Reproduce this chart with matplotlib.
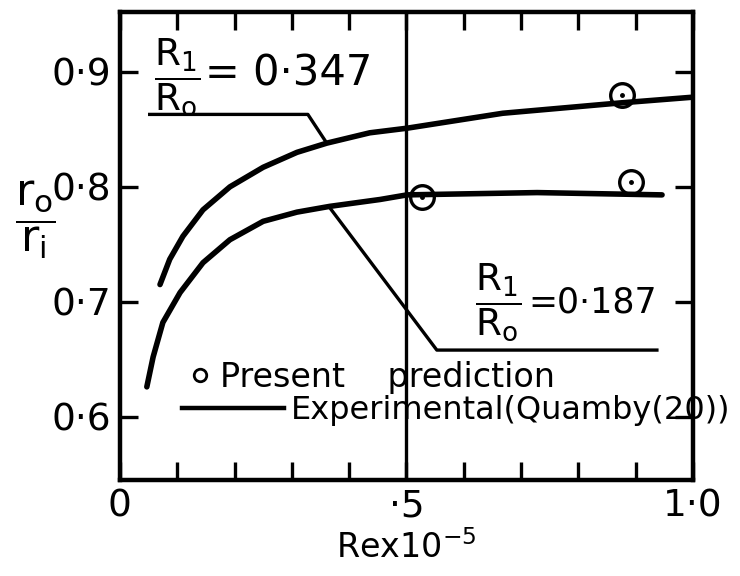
import numpy as np
import matplotlib
matplotlib.use('Agg')

import matplotlib.pyplot as plt
from matplotlib.lines import Line2D

plt.rcParams['font.family'] = ['DejaVu Sans']
plt.rcParams['mathtext.fontset'] = 'dejavusans'
plt.rcParams['mathtext.default'] = 'regular'

# experimental curve, R1/R0 = 0.347
re_a = [0.070, 0.087, 0.110, 0.145, 0.192, 0.250, 0.309, 0.361, 0.436, 0.501, 0.668, 0.873, 1.0]
ratio_a = [0.715, 0.737, 0.757, 0.780, 0.800, 0.817, 0.830, 0.838, 0.847, 0.851, 0.864, 0.873, 0.878]

# experimental curve, R1/R0 = 0.187
re_b = [0.047, 0.058, 0.075, 0.105, 0.145, 0.192, 0.250, 0.309, 0.366, 0.454, 0.501, 0.728, 0.946]
ratio_b = [0.626, 0.652, 0.682, 0.708, 0.734, 0.754, 0.770, 0.778, 0.783, 0.789, 0.793, 0.795, 0.793]

# present prediction
re_pred = [0.527, 0.876, 0.892]
ratio_pred = [0.791, 0.880, 0.804]

# leader lines from the labels to the curves
lead_a_x = [0.052, 0.328, 0.361]
lead_a_y = [0.863, 0.863, 0.838]
lead_b_x = [0.366, 0.553, 0.937]
lead_b_y = [0.782, 0.658, 0.658]

xticks = np.arange(0, 1.01, 0.1)
xtick_labels = ['0', '', '', '', '', '·5', '', '', '', '', '1·0']
yticks = [0.6, 0.7, 0.8, 0.9]
ytick_labels = ['0·6', '0·7', '0·8', '0·9']

fig, ax = plt.subplots(figsize=(7.4, 5.76), dpi=100)
fig.subplots_adjust(left=0.162, right=0.9365, top=0.979, bottom=0.1667)

ax.plot(re_a, ratio_a, color='k', lw=4, solid_capstyle='round')
ax.plot(re_b, ratio_b, color='k', lw=4, solid_capstyle='round')
ax.plot(re_pred, ratio_pred, 'o', ms=17, mfc='none', mec='k', mew=2.4)
ax.plot(re_pred, ratio_pred, '.', ms=5, color='k')
ax.plot(lead_a_x, lead_a_y, color='k', lw=2.4)
ax.plot(lead_b_x, lead_b_y, color='k', lw=2.4)
ax.axvline(0.5, color='k', lw=2.4)

ax.set_xlim(0, 1.0)
ax.set_ylim(0.545, 0.952)
ax.set_xticks(xticks)
ax.set_xticklabels(xtick_labels, fontsize=27)
ax.set_yticks(yticks)
ax.set_yticklabels(ytick_labels, fontsize=27)
ax.tick_params(direction='in', length=13, width=2.4, top=True, right=True, pad=6)
for s in ax.spines.values():
    s.set_linewidth(3.2)

# curve labels
ax.text(0.0995, 0.895, r'$\dfrac{R_1}{R_o}$', fontsize=27, ha='center', va='center')
ax.text(0.148, 0.899, '= 0·347', fontsize=30, ha='left', va='center')
ax.text(0.660, 0.700, r'$\dfrac{R_1}{R_o}$', fontsize=27, ha='center', va='center')
ax.text(0.712, 0.699, '=0·187', fontsize=25, ha='left', va='center')

ax.set_xlabel('Rex10$^{-5}$', fontsize=24, labelpad=4)
fig.text(35 / 740, 1 - 220 / 576, r'$\dfrac{r_o}{r_i}$', fontsize=32, ha='center', va='center')

leg1 = ax.legend([Line2D([], [], marker='o', ls='none', mfc='none', mec='k', ms=9, mew=2)],
                 ['Present    prediction'], loc='center left',
                 bbox_to_anchor=(190 / 740, 1 - 377 / 576), bbox_transform=fig.transFigure,
                 frameon=False, fontsize=24, handlelength=0.6, handletextpad=0.3,
                 borderpad=0, borderaxespad=0, numpoints=1)
ax.add_artist(leg1)
ax.legend([Line2D([], [], color='k', lw=3.2)], ['Experimental(Quamby(20))'], loc='center left',
          bbox_to_anchor=(182 / 740, 1 - 411 / 576), bbox_transform=fig.transFigure,
          frameon=False, fontsize=23, handlelength=3.2, handletextpad=0.2,
          borderpad=0, borderaxespad=0)

plt.savefig('out.png', dpi=100)
